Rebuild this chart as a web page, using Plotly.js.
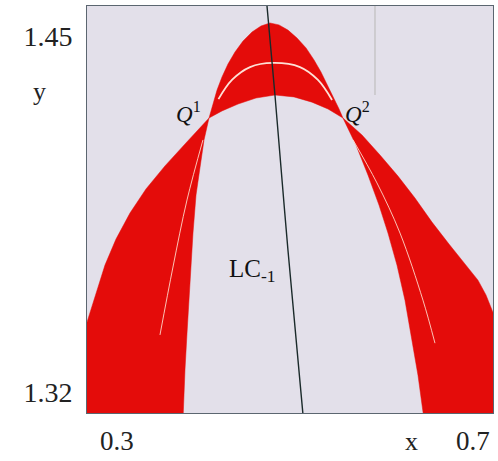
<!DOCTYPE html>
<html>
<head>
<meta charset="utf-8">
<script src="https://cdn.plot.ly/plotly-3.0.1.min.js"></script>
<style>
  html, body { margin: 0; padding: 0; background: #ffffff; }
  #chart { width: 498px; height: 461px; }
</style>
</head>
<body>
<div id="chart"></div>
<script>
// Axis window and the two corner tick labels
const xRange = [0.2663, 0.7225];
const yRange = [1.3124, 1.4610];
const xTicks = [0.3, 0.7];
const yTicks = [1.32, 1.45];
const xTickText = ['0.3', '0.7'];
const yTickText = ['1.32', '1.45'];

// Tall critical curve: left branch (bottom -> Q1), cap (Q1 -> Q2), right branch (Q2 -> bottom)
const tallLeftX = [0.3742, 0.3764, 0.3787, 0.3820, 0.3854, 0.3888, 0.3933, 0.3978, 0.4034];
const tallLeftY = [1.3100, 1.3281, 1.3416, 1.3609, 1.3781, 1.3920, 1.4022, 1.4121, 1.4201];
const tallTopX = [0.4034, 0.4079, 0.4124, 0.4180, 0.4247, 0.4326, 0.4416, 0.4517, 0.4618, 0.4719,
                  0.4820, 0.4921, 0.5023, 0.5124, 0.5214, 0.5292, 0.5371, 0.5438, 0.5495, 0.5539];
const tallTopY = [1.4201, 1.4252, 1.4303, 1.4351, 1.4398, 1.4442, 1.4482, 1.4515, 1.4537, 1.4548,
                  1.4541, 1.4522, 1.4493, 1.4457, 1.4413, 1.4369, 1.4318, 1.4270, 1.4234, 1.4201];
const tallRightX = [0.5539, 0.5686, 0.5820, 0.5944, 0.6045, 0.6146, 0.6236, 0.6315, 0.6382, 0.6450];
const tallRightY = [1.4201, 1.4102, 1.3993, 1.3883, 1.3781, 1.3664, 1.3536, 1.3390, 1.3262, 1.3100];

// Wide critical curve: left branch (edge -> Q1), arch (Q1 -> Q2), right branch (Q2 -> edge)
const wideLeftX = [0.2607, 0.2663, 0.2764, 0.2865, 0.2989, 0.3146, 0.3326, 0.3539, 0.3775, 0.4034];
const wideLeftY = [1.3398, 1.3456, 1.3566, 1.3664, 1.3759, 1.3854, 1.3942, 1.4026, 1.4110, 1.4201];
const wideTopX = [0.4034, 0.4180, 0.4360, 0.4562, 0.4775, 0.4989, 0.5191, 0.5371, 0.5539];
const wideTopY = [1.4201, 1.4227, 1.4252, 1.4274, 1.4285, 1.4278, 1.4259, 1.4234, 1.4201];
const wideRightX = [0.5539, 0.5753, 0.5955, 0.6157, 0.6348, 0.6539, 0.6730, 0.6921, 0.7056, 0.7146, 0.7214, 0.7281];
const wideRightY = [1.4201, 1.4139, 1.4066, 1.3989, 1.3909, 1.3821, 1.3741, 1.3664, 1.3609, 1.3555, 1.3500, 1.3445];

// Thin light veins inside the red bands
const capVeinX = [0.4140, 0.4292, 0.4495, 0.4753, 0.5056, 0.5258, 0.5416];
const capVeinY = [1.4270, 1.4340, 1.4387, 1.4402, 1.4387, 1.4340, 1.4267];
const leftVeinX = [0.3966, 0.3787, 0.3629, 0.3483];
const leftVeinY = [1.4121, 1.3902, 1.3657, 1.3409];
const rightVeinX = [0.5652, 0.5921, 0.6180, 0.6438, 0.6573];
const rightVeinY = [1.4121, 1.3964, 1.3781, 1.3536, 1.3379];

// Critical curve LC_-1
const lcX = [0.4680, 0.4775, 0.4921, 0.5095];
const lcY = [1.4630, 1.4285, 1.3719, 1.3100];

// Faint guide line at the top right
const guideX = [0.5899, 0.5899];
const guideY = [1.4610, 1.4285];

const RED = 'rgb(228,12,10)';
const BG = 'rgb(227,224,234)';
const rev = a => a.slice().reverse();
const last = a => a[a.length - 1];

// Cap between the two curves (Q1 -> Q2 over the top, back under the arch)
const capX = tallTopX.concat(rev(wideTopX));
const capY = tallTopY.concat(rev(wideTopY));
// Left band: wide branch up to Q1, tall branch down to the bottom, close at the corner
const leftX = wideLeftX.concat(rev(tallLeftX), [wideLeftX[0]]);
const leftY = wideLeftY.concat(rev(tallLeftY), [tallLeftY[0]]);
// Right band: wide branch out to the edge, down the edge, tall branch back to Q2
const rightX = wideRightX.concat([last(wideRightX)], rev(tallRightX));
const rightY = wideRightY.concat([last(tallRightY)], rev(tallRightY));

function band(x, y) {
  return { x, y, type: 'scatter', mode: 'lines', fill: 'toself',
           fillcolor: RED, line: { color: RED, width: 0.5 }, hoverinfo: 'skip' };
}
function curve(x, y, color, width, shape) {
  return { x, y, type: 'scatter', mode: 'lines',
           line: { color, width, shape: shape || 'spline' }, hoverinfo: 'skip' };
}

const data = [
  band(capX, capY),
  band(leftX, leftY),
  band(rightX, rightY),
  curve(capVeinX, capVeinY, 'rgba(255,236,226,0.95)', 1.8),
  curve(leftVeinX, leftVeinY, 'rgba(255,226,210,0.85)', 1),
  curve(rightVeinX, rightVeinY, 'rgba(255,226,210,0.85)', 1),
  curve(guideX, guideY, 'rgba(150,150,140,0.55)', 1, 'linear'),
  curve(lcX, lcY, '#1a2a2a', 1.4)
];

const serif = '"Liberation Serif", "DejaVu Serif", serif';

const layout = {
  width: 498, height: 461,
  margin: { l: 87, r: 5, t: 6, b: 48 },
  paper_bgcolor: '#ffffff',
  plot_bgcolor: BG,
  showlegend: false,
  xaxis: {
    range: xRange, tickvals: xTicks, ticktext: xTickText,
    showgrid: false, zeroline: false,
    showline: true, mirror: true, linecolor: '#5b6670', linewidth: 1,
    ticks: 'outside', ticklen: 4, tickcolor: 'rgba(0,0,0,0)',
    tickfont: { family: serif, size: 27, color: '#222' }
  },
  yaxis: {
    range: yRange, tickvals: yTicks, ticktext: yTickText,
    showgrid: false, zeroline: false,
    showline: true, mirror: true, linecolor: '#5b6670', linewidth: 1,
    ticks: 'outside', ticklen: 8, tickcolor: 'rgba(0,0,0,0)',
    tickfont: { family: serif, size: 28, color: '#222' }
  },
  annotations: [
    { x: 0.3798, y: 1.4223, text: '<i>Q</i><sup>1</sup>', showarrow: false,
      font: { family: serif, size: 23, color: '#111' } },
    { x: 0.5708, y: 1.4223, text: '<i>Q</i><sup>2</sup>', showarrow: false,
      font: { family: serif, size: 23, color: '#111' } },
    { x: 0.4517, y: 1.3646, text: 'LC<sub>-1</sub>', showarrow: false,
      font: { family: serif, size: 25, color: '#111' } },
    { xref: 'paper', yref: 'paper', x: -0.1158, y: 0.789, xanchor: 'center', yanchor: 'middle',
      text: 'y', showarrow: false, font: { family: serif, size: 26, color: '#222' } },
    { xref: 'paper', yref: 'paper', x: 0.800, y: -0.071, xanchor: 'center', yanchor: 'middle',
      text: 'x', showarrow: false, font: { family: serif, size: 26, color: '#222' } }
  ]
};

Plotly.newPlot('chart', data, layout, { staticPlot: true, displayModeBar: false });
</script>
</body>
</html>
